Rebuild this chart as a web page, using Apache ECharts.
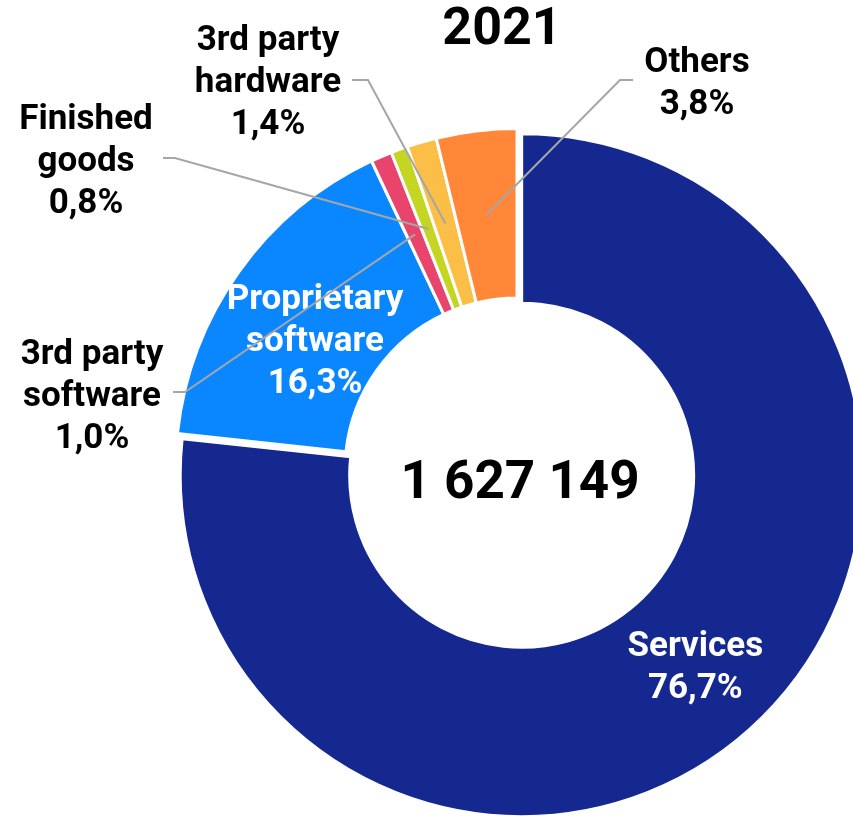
<!DOCTYPE html>
<html>
<head>
<meta charset="utf-8">
<script src="https://cdn.jsdelivr.net/npm/echarts@6/dist/echarts.min.js"></script>
<style>
  html, body { margin: 0; padding: 0; background: #fff; }
  #chart { width: 853px; height: 816px; }
</style>
</head>
<body>
<div id="chart"></div>
<script>
// Revenue split by source, 2021
const year = '2021';
const total = '1 627 149';
const categories = ['Services', 'Proprietary software', '3rd party software', 'Finished goods', '3rd party hardware', 'Others'];
const shares = [76.7, 16.3, 1.0, 0.8, 1.4, 3.8];
const labelNames = ['Services', 'Proprietary\nsoftware', '3rd party\nsoftware', 'Finished\ngoods', '3rd party\nhardware', 'Others'];
const sliceColors = ['#15288f', '#0a87ff', '#e9446b', '#c4d522', '#fbbf48', '#ff8737'];

// Ring geometry
const CX = 517, CY = 470;
const R_IN = 172, R_OUT = 341.5;
const R_MID = (R_IN + R_OUT) / 2;
const FONT = 'Roboto, "Noto Sans", sans-serif';

// Slices whose label sits inside the ring
const insideLabels = ['Services', 'Proprietary software'];

// Callout placement: label centre, leader-line elbow and leader end next to the text
const callouts = {
  'Proprietary software': { x: 315, y: 342 },
  '3rd party software': { x: 92, y: 397, elbow: [185, 392], end: [173, 392] },
  'Finished goods': { x: 86, y: 162, elbow: [175, 158], end: [163, 158] },
  '3rd party hardware': { x: 268, y: 83, elbow: [368, 80], end: [352, 80] },
  'Others': { x: 697, y: 84, elbow: [620, 80], end: [633, 80] }
};

const pct = v => v.toFixed(1).replace('.', ',') + '%';
const isInside = i => insideLabels.indexOf(categories[i]) >= 0;

// Leader lines start in the middle of the ring, on the slice's mid angle
function leaderStart(params) {
  const p0 = params.labelLinePoints && params.labelLinePoints[0];
  if (p0) {
    const k = R_MID / R_OUT;
    return [CX + (p0[0] - CX) * k, CY + (p0[1] - CY) * k];
  }
  const sum = shares.reduce((a, b) => a + b, 0);
  let before = 0;
  for (let i = 0; i < params.dataIndex; i++) before += shares[i];
  const a = (before + shares[params.dataIndex] / 2) / sum * Math.PI * 2;
  return [CX + R_MID * Math.sin(a), CY - R_MID * Math.cos(a)];
}

function placeLabel(params) {
  const c = callouts[categories[params.dataIndex]];
  if (!c) return;
  const out = { x: c.x, y: c.y, align: 'center', verticalAlign: 'middle' };
  if (c.elbow) out.labelLinePoints = [leaderStart(params), c.elbow, c.end];
  return out;
}

const labelText = {
  fontFamily: FONT,
  fontWeight: 'bold',
  fontSize: 35,
  lineHeight: 42,
  formatter: p => labelNames[p.dataIndex] + '\n' + pct(p.value)
};

const chart = echarts.init(document.getElementById('chart'), null, { renderer: 'canvas' });

chart.setOption({
  animation: false,
  backgroundColor: '#fff',
  title: [
    {
      text: year, left: 502, top: 31, padding: 0,
      textAlign: 'center', textVerticalAlign: 'middle',
      textStyle: { fontFamily: FONT, fontWeight: 'bold', fontSize: 52, color: '#000' }
    },
    {
      text: total, left: 520, top: 485, padding: 0,
      textAlign: 'center', textVerticalAlign: 'middle',
      textStyle: { fontFamily: FONT, fontWeight: 'bold', fontSize: 53, color: '#000' }
    }
  ],
  series: [
    {
      // the coloured ring, with the two large slices labelled in place
      type: 'pie',
      z: 2,
      center: [CX, CY],
      radius: [R_IN, R_OUT],
      startAngle: 90,
      clockwise: true,
      selectedMode: 'single',
      selectedOffset: 7,
      avoidLabelOverlap: false,
      itemStyle: { borderColor: '#fff', borderWidth: 3 },
      label: Object.assign({ show: true, position: 'inside', color: '#fff' }, labelText),
      labelLine: { show: false },
      emphasis: { disabled: true },
      select: { itemStyle: { borderColor: '#fff', borderWidth: 3 } },
      labelLayout: placeLabel,
      data: categories.map((name, i) => ({
        name: name,
        value: shares[i],
        selected: i === 0,
        itemStyle: { color: sliceColors[i] },
        label: { show: isInside(i) }
      }))
    },
    {
      // same slices, unpainted, carrying the outside callouts above the ring
      type: 'pie',
      z: 5,
      silent: true,
      center: [CX, CY],
      radius: [R_IN, R_OUT],
      startAngle: 90,
      clockwise: true,
      avoidLabelOverlap: false,
      itemStyle: { color: 'rgba(0,0,0,0)', borderWidth: 0 },
      label: Object.assign({ show: true, position: 'outside', color: '#000' }, labelText),
      labelLine: {
        show: true, length: 10, length2: 10,
        lineStyle: { color: '#a6a6a6', width: 2 }
      },
      emphasis: { disabled: true },
      labelLayout: placeLabel,
      data: categories.map((name, i) => ({
        name: name,
        value: shares[i],
        label: { show: !isInside(i) },
        labelLine: { show: !isInside(i) }
      }))
    }
  ]
});
</script>
</body>
</html>
